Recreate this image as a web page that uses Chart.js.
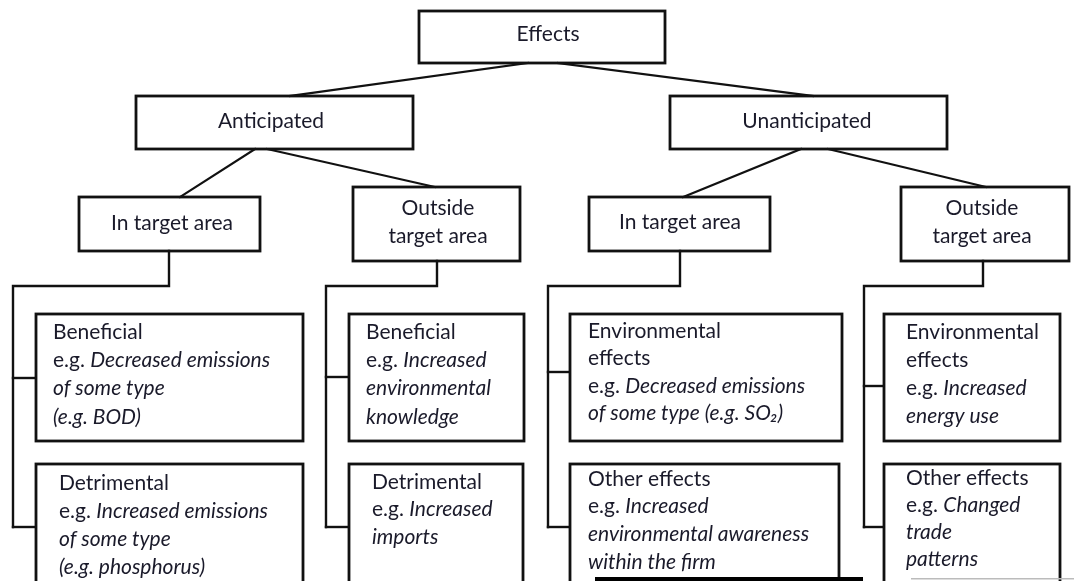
<!DOCTYPE html>
<html>
<head>
<meta charset="utf-8">
<script src="https://cdn.jsdelivr.net/npm/chart.js@4.4.1/dist/chart.umd.min.js"></script>
<style>
html,body{margin:0;padding:0;background:#fff;}
#wrap{width:1074px;height:581px;position:relative;}
</style>
</head>
<body>
<div id="wrap"><canvas id="c" width="1074" height="581"></canvas></div>
<script>
// ---- content (text of the tree) ----
const rootLabel = ["Effects"];
const levelOneLabels = [["Anticipated"], ["Unanticipated"]];
const levelTwoLabels = [["In target area"], ["Outside", "target area"], ["In target area"], ["Outside", "target area"]];
const leafTitles = [
  ["Beneficial"], ["Detrimental"],
  ["Beneficial"], ["Detrimental"],
  ["Environmental", "effects"], ["Other effects"],
  ["Environmental", "effects"], ["Other effects"]
];
const leafExamples = [
  ["Decreased emissions", "of some type", "(e.g. BOD)"],
  ["Increased emissions", "of some type", "(e.g. phosphorus)"],
  ["Increased", "environmental", "knowledge"],
  ["Increased", "imports"],
  ["Decreased emissions", "of some type (e.g. SO\u2082)"],
  ["Increased", "environmental awareness", "within the firm"],
  ["Increased", "energy use"],
  ["Changed", "trade", "patterns"]
];

// ---- layout (geometry in scale units, kept apart from content) ----
const layout = {
  root: {x0: 419, y0: 11, x1: 665, y1: 63, tx: 548, ty: 34},
  levelOne: [
    {x0: 136, y0: 96, x1: 413, y1: 149, tx: 271, ty: 121},
    {x0: 670, y0: 96, x1: 947, y1: 149, tx: 807, ty: 121}
  ],
  levelTwo: [
    {x0: 79, y0: 197, x1: 260, y1: 251, tx: 172, ty: 223},
    {x0: 353, y0: 187, x1: 520, y1: 261, tx: 438, ty: 208},
    {x0: 589, y0: 197, x1: 770, y1: 251, tx: 680, ty: 222},
    {x0: 901, y0: 187, x1: 1069, y1: 261, tx: 982, ty: 208}
  ],
  leaves: [
    {x0: 36, y0: 314, x1: 303, y1: 441, tx: 53, ty: 332, dy: 28.3},
    {x0: 36, y0: 464, x1: 303, y1: 600, tx: 59, ty: 483, dy: 28},
    {x0: 349, y0: 314, x1: 524, y1: 441, tx: 366, ty: 332, dy: 28.3},
    {x0: 349, y0: 464, x1: 523, y1: 600, tx: 372, ty: 482, dy: 27.5},
    {x0: 570, y0: 314, x1: 842, y1: 441, tx: 588, ty: 331, dy: 27.5},
    {x0: 570, y0: 464, x1: 839, y1: 600, tx: 588, ty: 479, dy: 27.7},
    {x0: 884, y0: 314, x1: 1060, y1: 441, tx: 906, ty: 332, dy: 28},
    {x0: 884, y0: 464, x1: 1060, y1: 600, tx: 906, ty: 478, dy: 27}
  ],
  rootLinks: [[528, 63, 290, 96], [558, 63, 813, 96]],
  oneLinks: [
    [255, 149, 180, 197], [267, 149, 435, 187],
    [801, 149, 683, 197], [828, 149, 986, 187]
  ],
  elbows: [
    {sx: 169, sy: 251, trunk: 13, top: 286, branches: [378, 527], to: 36},
    {sx: 437, sy: 261, trunk: 326, top: 286, branches: [377, 527], to: 349},
    {sx: 680, sy: 251, trunk: 548, top: 286, branches: [372, 527], to: 570},
    {sx: 983, sy: 261, trunk: 864, top: 286, branches: [386, 527], to: 884}
  ],
  artifacts: [{x0: 595, y0: 577, x1: 863, y1: 581, c: '#000'}, {x0: 911, y0: 578, x1: 1074, y1: 579.5, c: '#bbb'}]
};

const FONT = 'Lato, "Open Sans", sans-serif';
const SIZE = 21;
const INK = '#1a1a2a';

const treePlugin = {
  id: 'tree',
  afterDatasetsDraw(chart) {
    const ctx = chart.ctx;
    const xs = chart.scales.x, ys = chart.scales.y;
    const X = v => xs.getPixelForValue(v), Y = v => ys.getPixelForValue(v);
    ctx.save();
    ctx.lineCap = 'square';
    ctx.strokeStyle = '#111';

    function box(b, lw) {
      ctx.lineWidth = lw || 2.8;
      ctx.strokeRect(X(b.x0), Y(b.y0), X(b.x1) - X(b.x0), Y(b.y1) - Y(b.y0));
    }
    function line(pts, lw) {
      ctx.lineWidth = lw || 2.4;
      ctx.beginPath();
      ctx.moveTo(X(pts[0]), Y(pts[1]));
      for (let i = 2; i < pts.length; i += 2) ctx.lineTo(X(pts[i]), Y(pts[i + 1]));
      ctx.stroke();
    }
    function centered(b, lines) {
      ctx.fillStyle = INK;
      ctx.font = SIZE + 'px ' + FONT;
      ctx.textAlign = 'center';
      ctx.textBaseline = 'middle';
      const lh = 28;
      lines.forEach((t, i) => ctx.fillText(t, X(b.tx), Y(b.ty + i * lh)));
    }

    // connectors
    layout.rootLinks.forEach(l => line(l, 2.2));
    layout.oneLinks.forEach(l => line(l, 2.2));
    layout.elbows.forEach(e => {
      line([e.sx, e.sy, e.sx, e.top, e.trunk, e.top, e.trunk, e.branches[e.branches.length - 1]]);
      e.branches.forEach(by => line([e.trunk, by, e.to, by]));
    });

    // boxes
    box(layout.root);
    centered(layout.root, rootLabel);
    layout.levelOne.forEach((b, i) => { box(b); centered(b, levelOneLabels[i]); });
    layout.levelTwo.forEach((b, i) => { box(b); centered(b, levelTwoLabels[i]); });

    layout.leaves.forEach((b, i) => {
      ctx.fillStyle = '#fff';
      ctx.fillRect(X(b.x0), Y(b.y0), X(b.x1) - X(b.x0), Y(b.y1) - Y(b.y0));
      box(b);
      ctx.fillStyle = INK;
      ctx.textAlign = 'left';
      ctx.textBaseline = 'middle';
      let y = b.ty;
      leafTitles[i].forEach(t => {
        ctx.font = SIZE + 'px ' + FONT;
        ctx.fillText(t, X(b.tx), Y(y));
        y += b.dy;
      });
      leafExamples[i].forEach((t, k) => {
        let x = X(b.tx);
        if (k === 0) {
          ctx.font = SIZE + 'px ' + FONT;
          ctx.fillText('e.g. ', x, Y(y));
          x += ctx.measureText('e.g. ').width;
        }
        ctx.font = 'italic ' + SIZE + 'px ' + FONT;
        ctx.fillText(t, x, Y(y));
        y += b.dy;
      });
    });

    layout.artifacts.forEach(a => {
      ctx.fillStyle = a.c;
      ctx.fillRect(X(a.x0), Y(a.y0), X(a.x1) - X(a.x0), Y(a.y1) - Y(a.y0));
    });
    ctx.restore();
  }
};

new Chart(document.getElementById('c'), {
  type: 'scatter',
  data: {datasets: [{data: [], pointRadius: 0}]},
  options: {
    responsive: false,
    animation: false,
    layout: {padding: 0},
    plugins: {legend: {display: false}, tooltip: {enabled: false}},
    scales: {
      x: {type: 'linear', min: 0, max: 1074, display: false},
      y: {type: 'linear', min: 0, max: 581, reverse: true, display: false}
    }
  },
  plugins: [treePlugin]
});
</script>
</body>
</html>
